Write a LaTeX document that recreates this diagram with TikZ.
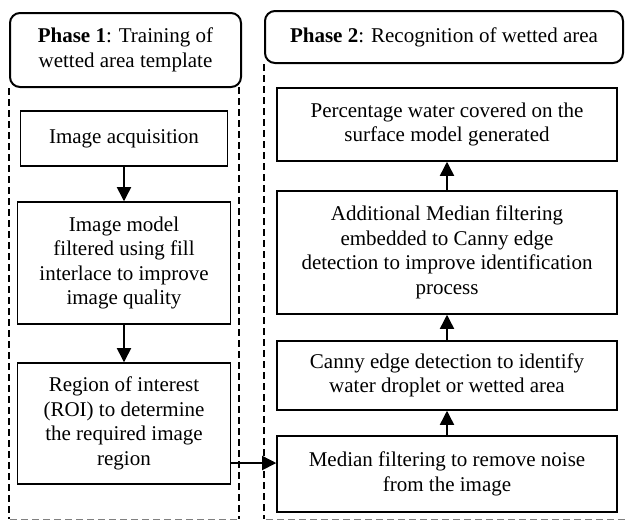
\documentclass[tikz,border=0pt]{standalone}
\usepackage{fontspec}
\setmainfont{Liberation Serif}
\usetikzlibrary{arrows.meta}

\begin{document}
\begin{tikzpicture}[x=0.6pt,y=-0.6pt,
  font=\fontsize{12.6}{14.7}\selectfont,
  phase/.style={draw,line width=1.2pt,rounded corners=6pt,align=center,inner sep=0pt},
  stepbox/.style={draw,line width=0.9pt,align=center,inner sep=0pt},
  frame/.style={line width=0.9pt,dash pattern=on 4.2pt off 2.4pt},
  frameb/.style={gray,line width=0.6pt,dash pattern=on 4.2pt off 2.4pt},
  arr/.style={line width=0.9pt,-{Triangle[length=8.5pt,width=8.5pt]}}]
\useasboundingbox (0,0) rectangle (625,521);
% phase headers
\node[phase,minimum width=138.6pt,minimum height=44.4pt] (P1) at (125.5,50) {\textbf{Phase 1}: Training of\\wetted area template};
\node[phase,minimum width=214.8pt,minimum height=31.2pt] (P2) at (444,37) {\textbf{Phase 2}: Recognition of wetted area};
% dashed frames
\draw[frame] (P1.south west) -- (P1.south west |- 0,519);
\draw[frame] (239,87) -- (239,519);
\draw[frameb] (10,519) -- (239,519);
\draw[frame] (P2.south west) -- (P2.south west |- 0,519);
\draw[frameb] (266,519) -- (625,519);
% phase 1 steps
\node[stepbox,minimum width=124.2pt,minimum height=33pt] (A1) at (124,138.5) {Image acquisition};
\node[stepbox,minimum width=127.8pt,minimum height=73.2pt] (A2) at (124,263) {Image model\\filtered using fill\\interlace to improve\\image quality};
\node[stepbox,minimum width=127.8pt,minimum height=72.6pt] (A3) at (124,423.5) {Region of interest\\(ROI) to determine\\the required image\\region};
% phase 2 steps
\node[stepbox,minimum width=204pt,minimum height=45.6pt] (B1) at (447,474) {Median filtering to remove noise\\from the image};
\node[stepbox,minimum width=204pt,minimum height=41.4pt] (B2) at (447,375.5) {Canny edge detection to identify\\water droplet or wetted area};
\node[stepbox,minimum width=204pt,minimum height=73.8pt] (B3) at (447,252.5) {Additional Median filtering\\embedded to Canny edge\\detection to improve identification\\process};
\node[stepbox,minimum width=204pt,minimum height=43.8pt] (B4) at (447,124.5) {Percentage water covered on the\\surface model generated};
% connectors
\draw[arr] (A1.south) -- (A2.north);
\draw[arr] (A2.south) -- (A3.north);
\draw[arr] ([yshift=-23.7pt]A3.east) -- ([yshift=-23.7pt]A3.east -| B1.west);
\draw[arr] (B1.north) -- (B2.south);
\draw[arr] (B2.north) -- (B3.south);
\draw[arr] (B3.north) -- (B4.south);
\end{tikzpicture}
\end{document}
